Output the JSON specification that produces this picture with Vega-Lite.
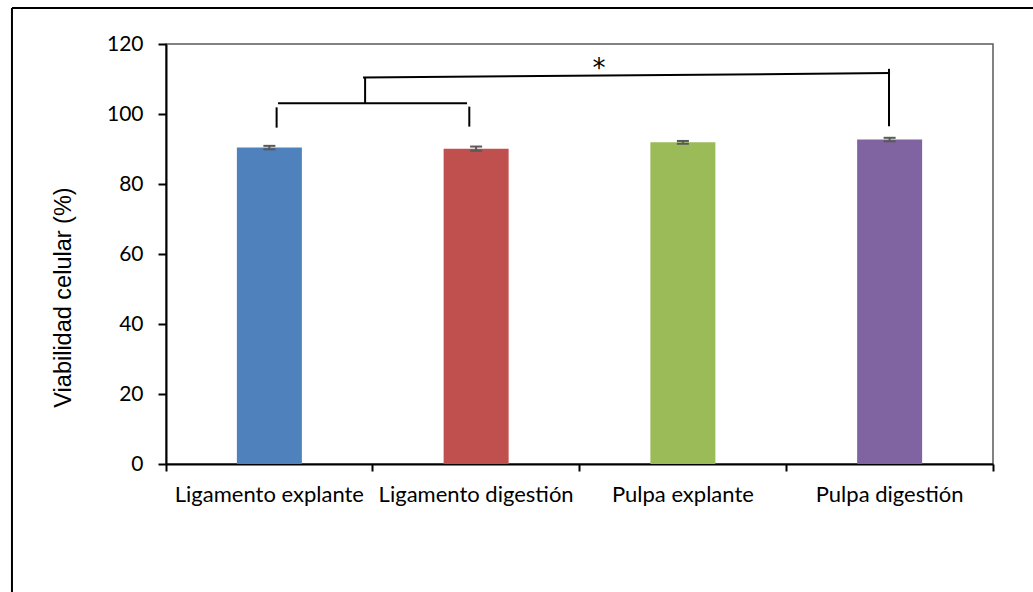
{
  "$schema": "https://vega.github.io/schema/vega-lite/v6.json",
  "width": 827,
  "height": 420,
  "autosize": {"type": "none"},
  "padding": {"left": 166, "top": 44, "right": 40, "bottom": 128},
  "background": "white",
  "config": {
    "font": "Lato",
    "view": {"stroke": "#595959", "strokeWidth": 1.5}
  },
  "datasets": {
    "bars": [
      {"grupo": "Ligamento explante", "viabilidad": 90.4, "lo": 89.9, "hi": 90.9},
      {"grupo": "Ligamento digestión", "viabilidad": 90.1, "lo": 89.5, "hi": 90.7},
      {"grupo": "Pulpa explante", "viabilidad": 91.9, "lo": 91.5, "hi": 92.3},
      {"grupo": "Pulpa digestión", "viabilidad": 92.7, "lo": 92.2, "hi": 93.2}
    ],
    "bracket": [
      {"x": 0.535, "x2": 0.535, "y": 101.9, "y2": 96.1},
      {"x": 0.542, "x2": 1.456, "y": 103.1, "y2": 103.1},
      {"x": 1.467, "x2": 1.467, "y": 102.1, "y2": 96.4},
      {"x": 0.963, "x2": 0.963, "y": 110.3, "y2": 103.1},
      {"x": 0.953, "x2": 3.502, "y": 110.4, "y2": 111.7},
      {"x": 3.497, "x2": 3.497, "y": 112.9, "y2": 96.5},
      {"x": -0.745, "x2": 5.0, "y": 130.3, "y2": 130.3},
      {"x": -0.745, "x2": -0.745, "y": 130.3, "y2": -40}
    ],
    "star": [{"x": 2.094, "y": 110.6, "label": "*"}]
  },
  "layer": [
    {
      "layer": [
        {
          "data": {"name": "bars"},
          "mark": {"type": "bar", "size": 65},
          "encoding": {
            "x": {
              "field": "grupo", "type": "nominal", "sort": null,
              "scale": {"paddingInner": 0, "paddingOuter": 0},
              "axis": {
                "title": null, "labelAngle": 0, "labelFontSize": 22, "labelColor": "#000",
                "labelPadding": 13, "labelLimit": 400, "labelOverlap": false,
                "tickSize": 7, "tickWidth": 2, "tickColor": "#000",
                "domainColor": "#000", "domainWidth": 2, "bandPosition": 1, "tickExtra": true,
                "labelFont": "Lato"
              }
            },
            "y": {
              "field": "viabilidad", "type": "quantitative",
              "scale": {"domain": [0, 120], "nice": false},
              "axis": {
                "title": "Viabilidad celular (%)", "titleFontSize": 23.5, "titleFontWeight": "normal",
                "titleFont": "Liberation Sans",
                "titleColor": "#000", "titleX": -96, "titleY": 253, "titleBaseline": "alphabetic",
                "titleAngle": -90, "titleAlign": "center",
                "values": [0, 20, 40, 60, 80, 100, 120], "grid": false,
                "labelFontSize": 21, "labelColor": "#000", "labelPadding": 15,
                "tickSize": 8, "tickWidth": 2, "tickColor": "#000",
                "domainColor": "#000", "domainWidth": 2
              }
            },
            "color": {
              "field": "grupo", "type": "nominal", "sort": null,
              "scale": {"range": ["#4F81BD", "#C0504D", "#9BBB59", "#8064A2"]},
              "legend": null
            }
          }
        },
        {
          "data": {"name": "bars"},
          "mark": {"type": "rule", "color": "#595959", "strokeWidth": 2},
          "encoding": {
            "x": {"field": "grupo", "type": "nominal", "sort": null},
            "y": {"field": "lo", "type": "quantitative", "title": "Viabilidad celular (%)"},
            "y2": {"field": "hi"}
          }
        },
        {
          "data": {"name": "bars"},
          "mark": {"type": "tick", "color": "#595959", "thickness": 2, "size": 12, "opacity": 1},
          "encoding": {
            "x": {"field": "grupo", "type": "nominal", "sort": null},
            "y": {"field": "lo", "type": "quantitative", "title": "Viabilidad celular (%)"}
          }
        },
        {
          "data": {"name": "bars"},
          "mark": {"type": "tick", "color": "#595959", "thickness": 2, "size": 12, "opacity": 1},
          "encoding": {
            "x": {"field": "grupo", "type": "nominal", "sort": null},
            "y": {"field": "hi", "type": "quantitative", "title": "Viabilidad celular (%)"}
          }
        }
      ]
    },
    {
      "layer": [
        {
          "data": {"name": "bracket"},
          "mark": {"type": "rule", "color": "#000", "strokeWidth": 2},
          "encoding": {
            "x": {"field": "x", "type": "quantitative", "scale": {"domain": [0, 4], "nice": false, "zero": false}, "axis": null},
            "x2": {"field": "x2"},
            "y": {"field": "y", "type": "quantitative", "title": "Viabilidad celular (%)"},
            "y2": {"field": "y2"}
          }
        },
        {
          "data": {"name": "star"},
          "mark": {"type": "text", "fontSize": 26, "font": "DejaVu Sans", "color": "#000", "baseline": "alphabetic", "align": "center"},
          "encoding": {
            "x": {"field": "x", "type": "quantitative", "axis": null},
            "y": {"field": "y", "type": "quantitative", "title": "Viabilidad celular (%)"},
            "text": {"field": "label"}
          }
        }
      ]
    }
  ],
  "resolve": {"scale": {"x": "independent"}}
}
